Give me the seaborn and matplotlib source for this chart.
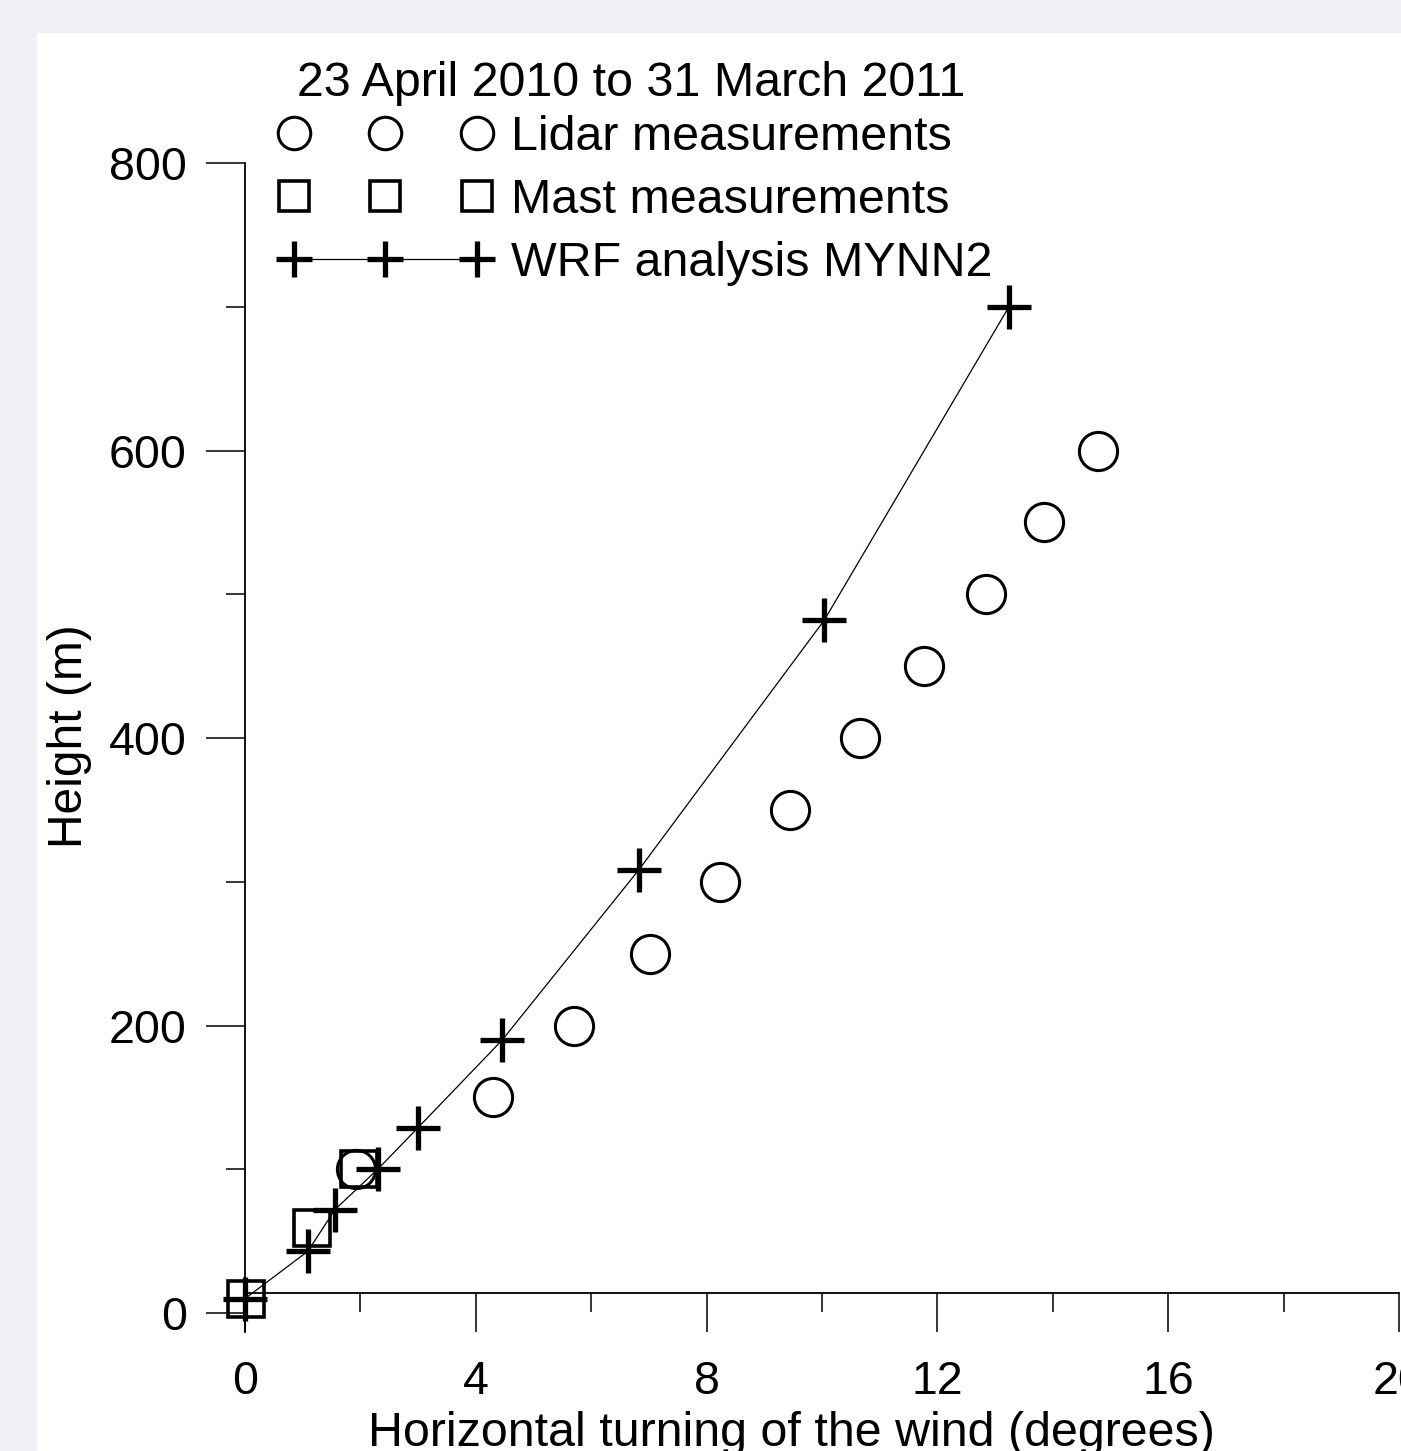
import matplotlib
matplotlib.use("Agg")
import matplotlib.pyplot as plt
from matplotlib.patches import Rectangle
import seaborn as sns
import pandas as pd

# ---- data ----
lidar_x = [1.92, 4.29, 5.71, 7.02, 8.23, 9.45, 10.66, 11.77, 12.84, 13.85, 14.79]
lidar_y = [100, 150, 200, 250, 300, 350, 400, 450, 500, 550, 600]

mast_x = [0.02, 1.16, 1.97]
mast_y = [10, 59, 100]

wrf_x = [0.0, 1.09, 1.56, 2.3, 3.0, 4.46, 6.82, 10.04, 13.24]
wrf_y = [10, 43, 72, 100, 129, 190, 308, 482, 700]

title_text = "23 April 2010 to 31 March 2011"
labels = ["Lidar measurements", "Mast measurements", "WRF analysis MYNN2"]
xlabel = "Horizontal turning of the wind (degrees)"
ylabel = "Height (m)"
xticks_major = [0, 4, 8, 12, 16, 20]
xticks_minor = [2, 6, 10, 14, 18]
yticks_major = [0, 200, 400, 600, 800]
yticks_minor = [100, 300, 500, 700]

sns.set_theme(style="white")
plt.rcParams["font.family"] = ["Liberation Sans", "DejaVu Sans"]
plt.rcParams["text.color"] = "black"

W, H = 1401, 1451
fig = plt.figure(figsize=(W / 100, H / 100), dpi=100)
fig.patch.set_facecolor("#eff0f6")
fig.add_artist(Rectangle((37 / W, 0), 1, 1 - 33 / H, transform=fig.transFigure,
                         facecolor="white", edgecolor="none", zorder=-10))

ax = fig.add_axes([245 / W, (H - 1332) / H, 1154 / W, 1169 / H])
ax.set_facecolor("none")

df_wrf = pd.DataFrame({"x": wrf_x, "y": wrf_y})
df_mast = pd.DataFrame({"x": mast_x, "y": mast_y})
df_lidar = pd.DataFrame({"x": lidar_x, "y": lidar_y})

sns.lineplot(data=df_wrf, x="x", y="y", ax=ax, sort=False, estimator=None,
             color="black", linewidth=0.9, marker="+", markersize=31,
             markeredgewidth=3.8, markeredgecolor="black", clip_on=False,
             label=labels[2], zorder=3)
sns.lineplot(data=df_mast, x="x", y="y", ax=ax, sort=False, estimator=None,
             color="black", linestyle="none", marker="s", markersize=25.5,
             markerfacecolor="none", markeredgewidth=2.6, markeredgecolor="black",
             clip_on=False, label=labels[1], zorder=4)
sns.lineplot(data=df_lidar, x="x", y="y", ax=ax, sort=False, estimator=None,
             color="black", linestyle="none", marker="o", markersize=27.5,
             markerfacecolor="none", markeredgewidth=2.2, markeredgecolor="black",
             clip_on=False, label=labels[0], zorder=5)

ax.set_xlim(0, 20)
ax.set_ylim(-13.2, 800)

for s in ["top", "right"]:
    ax.spines[s].set_visible(False)
ax.spines["bottom"].set_position(("data", 13.9))
for s in ["left", "bottom"]:
    ax.spines[s].set_color("black")
    ax.spines[s].set_linewidth(1.3)

ax.set_xticks(xticks_major)
ax.set_xticks(xticks_minor, minor=True)
ax.set_yticks(yticks_major)
ax.set_yticks(yticks_minor, minor=True)
ax.set_xticklabels([str(v) for v in xticks_major])
ax.set_yticklabels([str(v) for v in yticks_major])
ax.tick_params(axis="both", which="both", bottom=True, left=True,
               top=False, right=False)
ax.tick_params(axis="both", which="major", direction="out", length=28, width=1.1,
               color="black", labelsize=33.5, labelcolor="black")
ax.tick_params(axis="both", which="minor", direction="out", length=14, width=1.1,
               color="black")
ax.tick_params(axis="x", which="major", pad=20)
ax.tick_params(axis="y", which="major", pad=14)
ax.set_xlabel("")
ax.set_ylabel("")

fig.text(791 / W, 1 - 1446 / H, xlabel, ha="center", va="baseline",
         fontsize=34.8, color="black")
fig.text(70 / W, 1 - 736 / H, ylabel, ha="center", va="center", rotation=90,
         fontsize=34.5, color="black")

fig.text(631 / W, 1 - 83 / H, title_text, ha="center", va="center",
         fontsize=34.8, color="black")

handles, labs = ax.get_legend_handles_labels()
order = [labs.index(l) for l in labels]
leg = ax.legend([handles[i] for i in order], [labs[i] for i in order],
                loc="upper left", bbox_to_anchor=(279 / W, 1 - 115 / H),
                bbox_transform=fig.transFigure, frameon=False, numpoints=3,
                fontsize=34.8, handlelength=4.4, handletextpad=0.40,
                labelspacing=0.37, borderpad=0, borderaxespad=0,
                markerscale=0.85, labelcolor="black")

fig.savefig("out.png", dpi=100, facecolor=fig.get_facecolor())
